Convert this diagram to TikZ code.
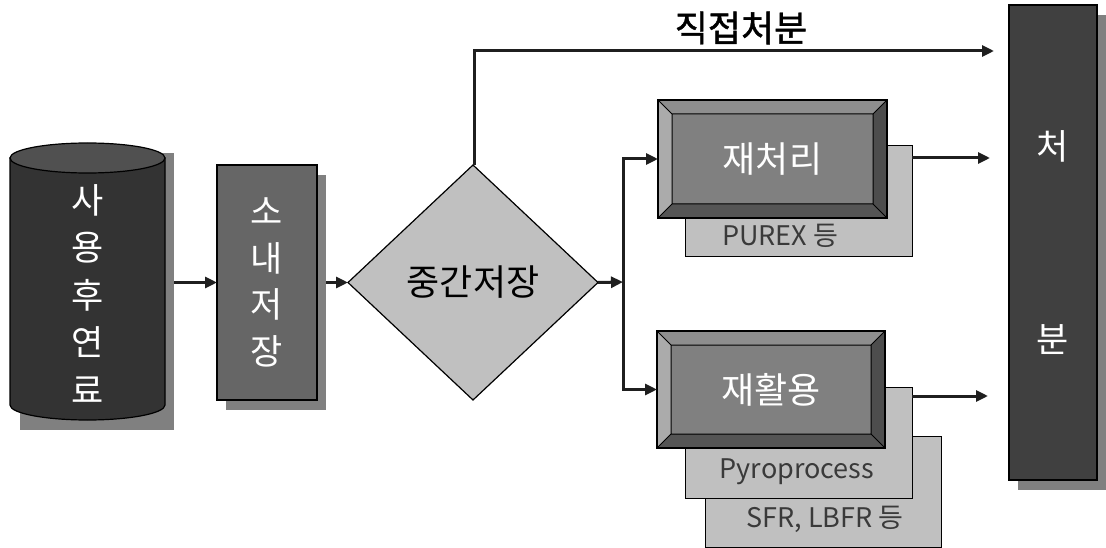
\documentclass[tikz,border=0pt]{standalone}
\usepackage{fontspec}
\setmainfont{Noto Sans CJK KR}
\newfontfamily\medfont[FakeBold=1.2]{Noto Sans CJK KR}
\usetikzlibrary{arrows.meta,calc,shapes.geometric}
\definecolor{shadowgray}{HTML}{808080}
\definecolor{cyldark}{HTML}{333333}
\definecolor{cyltop}{HTML}{505050}
\definecolor{storefill}{HTML}{666666}
\definecolor{diafill}{HTML}{C0C0C0}
\definecolor{backfill}{HTML}{C0C0C0}
\definecolor{disfill}{HTML}{404040}
\definecolor{bvface}{HTML}{808080}
\definecolor{bvtop}{HTML}{8E8E8E}
\definecolor{bvleft}{HTML}{ABABAB}
\definecolor{bvright}{HTML}{4D4D4D}
\definecolor{bvbottom}{HTML}{555555}
\definecolor{smalltext}{HTML}{3A3A3A}
\begin{document}
\begin{tikzpicture}[x=1pt,y=-1pt,
  shadowbox/.style={fill=shadowgray, draw=none, inner sep=0pt, outer sep=0pt},
  darkbox/.style={draw=black, line width=1.2pt, inner sep=0pt, outer sep=0pt, text=white},
  backbox/.style={draw=black, line width=1pt, fill=backfill, inner sep=0pt, outer sep=0pt, minimum width=227, minimum height=111},
  smalltxt/.style={text=smalltext, font=\fontsize{27}{30}\selectfont, inner sep=0pt},
  bigwhite/.style={text=white, font=\fontsize{35}{40}\selectfont},
  flow/.style={line width=3pt, draw=black!88, -{Triangle[length=12pt,width=11pt]}},
  bevelbox/.style={draw=black, line width=1.2pt, fill=bvface, inner sep=0pt, outer sep=0pt,
    minimum width=229, minimum height=118, text=white, font=\fontsize{36}{40}\selectfont,
    path picture={
      \path (path picture bounding box.north west) coordinate (pA)
            (path picture bounding box.north east) coordinate (pB)
            (path picture bounding box.south east) coordinate (pC)
            (path picture bounding box.south west) coordinate (pD)
            ([shift={(14,14)}]path picture bounding box.north west) coordinate (qA)
            ([shift={(-14,14)}]path picture bounding box.north east) coordinate (qB)
            ([shift={(-14,-14)}]path picture bounding box.south east) coordinate (qC)
            ([shift={(14,-14)}]path picture bounding box.south west) coordinate (qD);
      \fill[bvtop] (pA)--(pB)--(qB)--(qA)--cycle;
      \fill[bvright] (pB)--(pC)--(qC)--(qB)--cycle;
      \fill[bvbottom] (pC)--(pD)--(qD)--(qC)--cycle;
      \fill[bvleft] (pD)--(pA)--(qA)--(qD)--cycle;
      \draw[line width=1pt] (qA) rectangle (qC) (pA)--(qA) (pB)--(qB) (pC)--(qC) (pD)--(qD);
    }}
]
\useasboundingbox (0,0) rectangle (1106,548);
\fill[white] (0,0) rectangle (1106,548);

% ---- spent fuel cylinder ----
\node[shadowbox, minimum width=154, minimum height=277] (fuelsh) at (97,291.5) {};
\draw[fill=cyldark, line width=1.2pt] (10,158) -- (10,405)
   arc[start angle=180, end angle=0, x radius=77.5, y radius=15] -- (165,158) -- cycle;
\draw[fill=cyltop, line width=1.2pt] (87.5,158) ellipse[x radius=77.5, y radius=15];
\node[bigwhite, align=center, font=\fontsize{35}{47.5}\selectfont] (fuel) at (88,294) {사\\용\\후\\연\\료};

% ---- on-site storage ----
\node[shadowbox, minimum width=100, minimum height=235] (storesh) at (276,292.5) {};
\node[darkbox, fill=storefill, minimum width=100, minimum height=235, align=center,
      font=\fontsize{35}{46.5}\selectfont] (store) at (267,282.5) {소\\내\\저\\장};

% ---- interim storage diamond ----
\node[diamond, draw=black, line width=1.2pt, fill=diafill, inner sep=0pt, outer sep=0pt,
      minimum width=250, minimum height=235, font=\fontsize{36}{40}\selectfont] (dia) at (473,282.5) {중간저장};

% ---- reprocessing ----
\node[backbox] (purex) at (798.5,201.5) {};
\node[smalltxt] (purexT) at (780,236) {PUREX 등};
\node[bevelbox] (rep) at (772.5,159) {재처리};

% ---- recycling ----
\node[backbox, minimum width=236] (sfr) at (823,491.5) {};
\node[smalltxt] (sfrT) at (825,519) {SFR, LBFR 등};
\node[backbox] (pyro) at (798.5,442.5) {};
\node[smalltxt] (pyroT) at (797,472) {Pyroprocess};
\node[bevelbox, minimum width=228, minimum height=117] (rec) at (771,389.5) {재활용};

% ---- disposal ----
\node[shadowbox, minimum width=88, minimum height=475] (dissh) at (1062,252.5) {};
\node[darkbox, fill=disfill, minimum width=88, minimum height=475, align=center,
      font=\fontsize{35}{193}\selectfont] (dis) at (1053,242.5) {처\\분};

% ---- connectors ----
\coordinate (split) at (623,282);
\coordinate (topend) at (994,51);
\coordinate (e1) at (990,158);
\coordinate (e2) at (988,396);

\draw[flow] (fuelsh.east |- store.west) -- (store.west);
\draw[flow] (storesh.east |- dia.west) -- (dia.west);
\draw[flow] (dia.east) -- (split);
\draw[flow] (split) |- (rep.west);
\draw[flow] (split) |- (rec.west);
\draw[flow] ([xshift=1pt]dia.north) |- (topend);
\node[font=\medfont\fontsize{36}{40}\selectfont, inner sep=0pt] (direct) at (741,28) {직접처분};
\draw[flow] (purex.east |- e1) -- (e1);
\draw[flow] (pyro.east |- e2) -- (e2);
\end{tikzpicture}
\end{document}
